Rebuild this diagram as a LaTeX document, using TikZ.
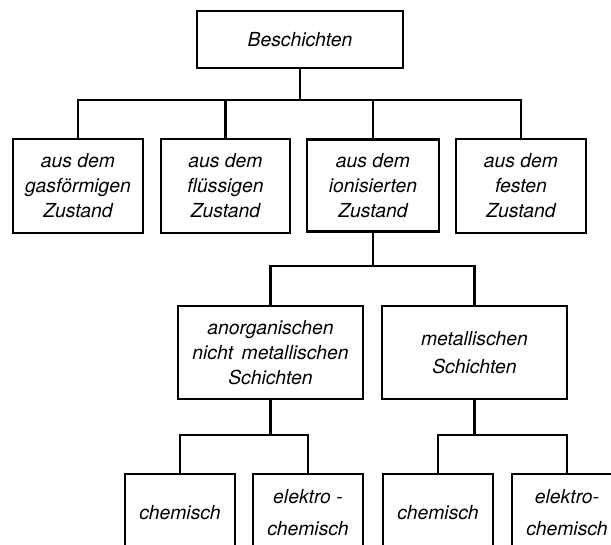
\documentclass[tikz,border=0pt]{standalone}
\usepackage{fontspec}
\setmainfont{TeX Gyre Heros}
\begin{document}
\begin{tikzpicture}[x=0.75pt,y=-0.75pt,
  box/.style={draw=black,line width=2.1pt,inner sep=0pt,align=center,
    font=\fontsize{14.5}{18.75}\selectfont\itshape},
  conn/.style={draw=black,line width=2.1pt}]
\useasboundingbox (0,0) rectangle (611,544);
\clip (0,0) rectangle (611,544);
% top
\node[box,minimum width=154.5pt,minimum height=42.75pt] (top) at (300,39.5) {Beschichten};
% row 2
\node[box,minimum width=97.5pt,minimum height=70.5pt] (r2a) at (78,186) {aus dem\\gasförmigen\\Zustand};
\node[box,minimum width=96.75pt,minimum height=70.5pt] (r2b) at (225.5,186) {aus dem\\flüssigen\\Zustand};
\node[box,minimum width=99pt,minimum height=69pt] (r2c) at (373,185.5) {aus dem\\ionisierten\\Zustand};
\node[box,minimum width=97.5pt,minimum height=70.5pt] (r2d) at (521,186) {aus dem\\festen\\Zustand};
% row 3
\node[box,minimum width=138.75pt,minimum height=69.75pt] (r3a) at (270.5,352.5) {anorganischen\\nicht\ \,metallischen\\Schichten};
\node[box,minimum width=138.75pt,minimum height=69.75pt,
  font=\fontsize{14.5}{21}\selectfont\itshape] (r3b) at (474.5,352.5) {metallischen\\Schichten};
% row 4
\node[box,minimum width=82.5pt,minimum height=58.5pt] (r4a) at (180,513) {chemisch};
\node[box,minimum width=82.5pt,minimum height=58.5pt,
  font=\fontsize{14.5}{24}\selectfont\itshape] (r4b) at (308,513) {elektro -\\chemisch};
\node[box,minimum width=82.5pt,minimum height=58.5pt] (r4c) at (438,513) {chemisch};
\node[box,minimum width=82.5pt,minimum height=58.5pt,
  font=\fontsize{14.5}{24}\selectfont\itshape] (r4d) at (567,513) {elektro-\\chemisch};
% connectors level 1
\coordinate (j1) at (300,100);
\draw[conn] (top.south) -- (j1);
\draw[conn] (r2a.north) |- (j1) -| (r2d.north);
\draw[conn] (r2b.north) -- (r2b.north |- j1);
\draw[conn] (r2c.north) -- (r2c.north |- j1);
% level 2
\coordinate (j2) at (373,266);
\draw[conn] (r2c.south) -- (j2);
\draw[conn] (r3a.north) |- (j2) -| (r3b.north);
% level 3
\coordinate (j3) at (270.5,435);
\draw[conn] (r3a.south) -- (j3);
\draw[conn] (r4a.north) |- (j3) -| (r4b.north);
\coordinate (j4) at (474.5,435);
\draw[conn] (r3b.south) -- (j4);
\draw[conn] (r4c.north) |- (j4) -| (r4d.north);
\end{tikzpicture}
\end{document}
